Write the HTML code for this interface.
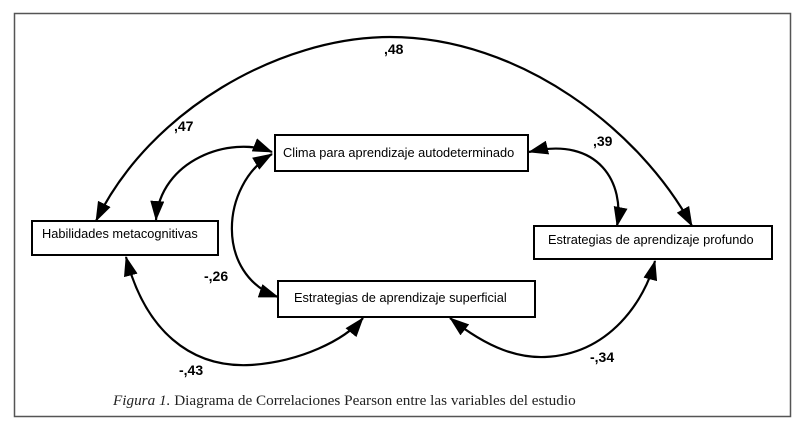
<!DOCTYPE html>
<html><head><meta charset="utf-8"><style>
html,body{margin:0;padding:0;background:#fff}
svg{display:block}
.s{font-family:"Liberation Sans",sans-serif}
.cap{font-family:"Liberation Serif",serif}
</style></head><body>
<svg width="803" height="432" viewBox="0 0 803 432" xmlns="http://www.w3.org/2000/svg">
<defs>
<marker id="a" markerWidth="20" markerHeight="14" refX="19" refY="7" orient="auto-start-reverse" markerUnits="userSpaceOnUse">
<path d="M0,0 L20,7 L0,14 z" fill="#000"/>
</marker>
</defs>
<rect x="14.5" y="13.5" width="776" height="403" fill="#fff" stroke="#555" stroke-width="1.5"/>
<g fill="none" stroke="#000" stroke-width="2.2">
<path d="M96,221 C150,110 280,37 390,37 C520,37 640,130 692,226" marker-start="url(#a)" marker-end="url(#a)"/>
<path d="M156,220 C160,160 230,135 272,152" marker-start="url(#a)" marker-end="url(#a)"/>
<path d="M272,154 C220,185 215,275 278,297" marker-start="url(#a)" marker-end="url(#a)"/>
<path d="M529,152 C600,135 625,185 617,226" marker-start="url(#a)" marker-end="url(#a)"/>
<path d="M126,257 C145,330 190,368 250,365 C300,362 345,340 363,318" marker-start="url(#a)" marker-end="url(#a)"/>
<path d="M450,318 C490,350 520,358 545,357 C610,354 645,300 655,261" marker-start="url(#a)" marker-end="url(#a)"/>
</g>
<g fill="#fff" stroke="#000" stroke-width="2">
<rect x="275" y="135" width="253" height="36"/>
<rect x="32" y="221" width="186" height="34"/>
<rect x="534" y="226" width="238" height="33"/>
<rect x="278" y="281" width="257" height="36"/>
</g>
<g class="s" font-size="12.8" fill="#000">
<text x="283" y="157">Clima para aprendizaje autodeterminado</text>
<text x="42" y="238">Habilidades metacognitivas</text>
<text x="548" y="244">Estrategias de aprendizaje profundo</text>
<text x="294" y="302">Estrategias de aprendizaje superficial</text>
</g>
<g class="s" font-size="14" font-weight="bold" fill="#000">
<text x="384" y="54">,48</text>
<text x="174" y="131">,47</text>
<text x="593" y="146">,39</text>
<text x="204" y="281">-,26</text>
<text x="179" y="375">-,43</text>
<text x="590" y="362">-,34</text>
</g>
<text class="cap" x="113" y="405" font-size="15.2" fill="#222"><tspan font-style="italic">Figura 1.</tspan> Diagrama de Correlaciones Pearson entre las variables del estudio</text>
</svg>
</body></html>
